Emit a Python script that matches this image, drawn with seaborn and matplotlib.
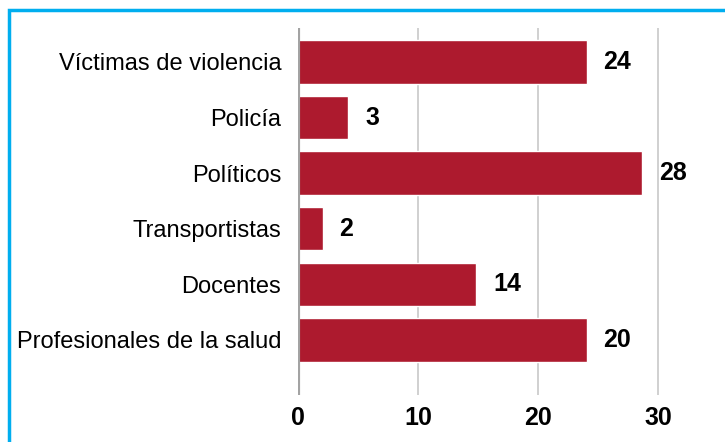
import pandas as pd
import seaborn as sns
import matplotlib.pyplot as plt
from matplotlib.patches import Rectangle

categories = ['Víctimas de violencia', 'Policía', 'Políticos', 'Transportistas',
              'Docentes', 'Profesionales de la salud']
bar_lengths = [24.05, 4.2, 28.7, 2.05, 14.85, 24.05]  # as drawn in the picture
value_labels = ['24', '3', '28', '2', '14', '20']       # as printed next to the bars
x_ticks = [0, 10, 20, 30]

bar_color = '#AD1A2E'

sns.set_style('white')
plt.rcParams['font.family'] = ['Liberation Sans', 'DejaVu Sans']

df = pd.DataFrame({'cat': categories, 'value': bar_lengths})

fig = plt.figure(figsize=(7.25, 4.42), dpi=100)
ax = fig.add_axes([298 / 725, 1 - 395 / 442, (661 - 298) / 725, (395 - 28) / 442])

sns.barplot(data=df, x='value', y='cat', orient='h', color=bar_color,
            width=0.78, saturation=1, ax=ax, zorder=3)

ax.set_xlim(0, 30.25)
ax.set_ylim(5.99, -0.61)
ax.set_xticks(x_ticks)
ax.set_xticklabels([str(t) for t in x_ticks], fontsize=18, fontweight='bold')
ax.tick_params(axis='x', length=0, pad=8, labelcolor='black')
ax.tick_params(axis='y', length=0, pad=12, labelsize=17, labelcolor='black')
ax.set_xlabel('')
ax.set_ylabel('')
for s in ax.spines.values():
    s.set_visible(False)

for t in x_ticks[1:]:
    ax.axvline(t, color='#c4c4c4', lw=1.1, zorder=1)
ax.axvline(0, color='#a3a3a3', lw=3, zorder=4)

for i, (v, lab) in enumerate(zip(bar_lengths, value_labels)):
    ax.annotate(lab, (v, i), xytext=(17, 0), textcoords='offset pixels',
                ha='left', va='center', fontsize=18, fontweight='bold', color='black')

# blue frame around the picture
fig.patches.append(Rectangle((9 / 725, -0.1), 1.2, 1 - 10 / 442 + 0.1,
                             transform=fig.transFigure, fill=False,
                             edgecolor='#00AEEF', lw=2.5, figure=fig))

plt.savefig('out.png', dpi=100)
